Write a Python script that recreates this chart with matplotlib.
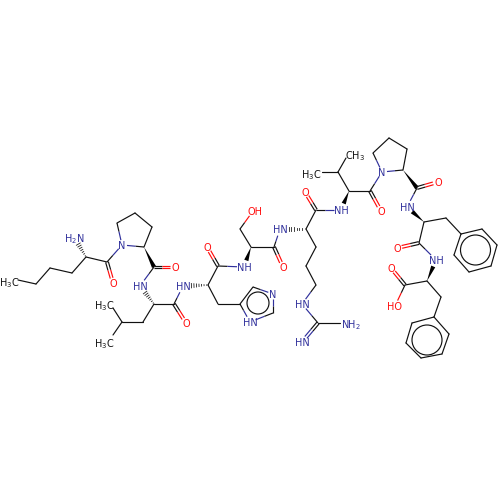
import numpy as np
import matplotlib
matplotlib.use("Agg")
import matplotlib.pyplot as plt
from matplotlib.patches import Polygon, Circle

BLUE = "#30309c"
RED = "#ff0d0d"
INK = "#111111"

# atom name -> position
atoms = {
 "me1": (18, 280), "c1": (36, 284), "c2": (50, 268), "c3": (72, 273), "a1": (86, 257),
 "n1": (74, 237), "co1": (107, 262), "o1": (113, 283), "p1n": (122, 245), "p1d": (117, 223),
 "p1g": (135, 213), "p1b": (152, 227), "p1a": (144, 247), "co2": (154, 267), "o2": (175, 267),
 "n2": (140, 286), "a3": (154, 304), "b3": (143, 322), "g3": (122, 322), "m3a": (113, 308),
 "m3b": (113, 335), "co3": (174, 304), "o3": (186, 323), "n3": (183, 286), "a4": (208, 285),
 "co4": (218, 266), "o4": (207, 247), "n4": (244, 267), "b4": (218, 304), "r1": (240, 304),
 "r2": (253, 287), "r3": (273, 294), "r4": (273, 313), "r5": (250, 322), "a5": (251, 247),
 "b5": (240, 229), "oh5": (253, 211), "co5": (274, 247), "o5": (283, 267), "n5": (280, 229),
 "a6": (306, 229), "co6": (316, 210), "o6": (305, 192), "b6": (316, 247), "g6": (306, 266),
 "d6": (316, 285), "n6": (302, 304), "gu": (318, 323), "nh": (302, 342), "nh2": (340, 323),
 "n7": (341, 210), "a7": (349, 191), "b7": (338, 172), "m7a": (346, 158), "m7b": (322, 172),
 "co7": (370, 191), "o7": (381, 211), "p2n": (382, 172), "p2d": (373, 153), "p2g": (389, 138),
 "p2b": (407, 149), "p2a": (403, 170), "co8": (417, 188), "o8": (438, 182), "n8": (407, 207),
 "a9": (424, 222), "b9": (446, 218), "f1": (461, 234), "f2": (482, 229), "f3": (497, 245),
 "f4": (491, 266), "f5": (469, 272), "f6": (454, 255), "co9": (419, 243), "o9": (397, 248),
 "n9": (436, 260), "a10": (427, 281), "co10": (405, 285), "o10": (391, 268), "oh10": (395, 306),
 "b10": (441, 297), "g1": (434, 317), "g2": (449, 334), "g3b": (442, 354), "g4": (421, 358),
 "g5": (406, 343), "g6b": (412, 323),
}

single_bonds = [
 ("me1","c1"),("c1","c2"),("c2","c3"),("c3","a1"),("a1","co1"),("co1","p1n"),("p1n","p1d"),
 ("p1d","p1g"),("p1g","p1b"),("p1b","p1a"),("p1a","p1n"),("co2","n2"),("a3","b3"),("b3","g3"),
 ("g3","m3a"),("g3","m3b"),("a3","co3"),("co3","n3"),
 ("a4","co4"),("co4","n4"),("a4","b4"),("b4","r1"),("r1","r2"),("r2","r3"),("r3","r4"),
 ("r4","r5"),("r5","r1"),("a5","b5"),("b5","oh5"),("a5","co5"),("co5","n5"),("a6","co6"),
 ("a6","b6"),("b6","g6"),("g6","d6"),("d6","n6"),("n6","gu"),("gu","nh2"),("co6","n7"),
 ("a7","b7"),("b7","m7a"),("b7","m7b"),("a7","co7"),("co7","p2n"),("p2n","p2d"),("p2d","p2g"),
 ("p2g","p2b"),("p2b","p2a"),("p2a","p2n"),("co8","n8"),("a9","b9"),("b9","f1"),("f1","f2"),
 ("f2","f3"),("f3","f4"),("f4","f5"),("f5","f6"),("f6","f1"),("a9","co9"),("co9","n9"),
 ("a10","co10"),("co10","oh10"),("a10","b10"),("b10","g1"),("g1","g2"),("g2","g3b"),
 ("g3b","g4"),("g4","g5"),("g5","g6b"),("g6b","g1"),
]
double_bonds = [("co1","o1"),("co2","o2"),("co3","o3"),("co4","o4"),("co5","o5"),("co6","o6"),
                ("co7","o7"),("co8","o8"),("co9","o9"),("co10","o10"),("gu","nh")]
wedge_bonds = [("p1a","co2"),("a5","n4"),("a7","n7"),("p2a","co8"),("a9","n8"),("a10","n9")]
hash_bonds = [("a1","n1"),("a3","n2"),("a4","n3"),("a6","n5")]

labels = {
 "me1": ("H$_3$C", INK, 0), "n1": ("H$_2$N", BLUE, 7), "o1": ("O", RED, 5), "p1n": ("N", BLUE, 5),
 "o2": ("O", RED, 5), "n2": ("HN", BLUE, 7), "m3a": ("H$_3$C", INK, 0), "m3b": ("H$_3$C", INK, 0),
 "o3": ("O", RED, 5), "n3": ("HN", BLUE, 7), "o4": ("O", RED, 5), "n4": ("NH", BLUE, 7),
 "r3": ("N", BLUE, 5), "r5": ("HN", BLUE, 6), "oh5": ("OH", RED, 6), "o5": ("O", RED, 5),
 "n5": ("HN", BLUE, 7), "o6": ("O", RED, 5), "n6": ("HN", BLUE, 6), "nh": ("HN", BLUE, 6),
 "nh2": ("NH$_2$", BLUE, 0), "n7": ("NH", BLUE, 7), "m7a": ("CH$_3$", INK, 0), "m7b": ("H$_3$C", INK, 0),
 "o7": ("O", RED, 5), "p2n": ("N", BLUE, 5), "o8": ("O", RED, 5), "n8": ("HN", BLUE, 7),
 "o9": ("O", RED, 5), "n9": ("NH", BLUE, 7), "o10": ("O", RED, 5), "oh10": ("HO", RED, 6),
}
# label text centres, where they differ from the atom's own position
label_pos = {
 "me1": (9, 281), "n1": (74, 237), "m3a": (104, 304), "m3b": (104, 342), "oh5": (255, 211),
 "n2": (140, 286), "r5": (250, 322), "n6": (302, 304), "nh": (302, 342), "nh2": (351, 323),
 "m7a": (355, 154), "m7b": (311, 173), "n5": (280, 229),
}
circles = [("imidazole", 258, 303, 11), ("phe1", 475.5, 250, 15), ("phe2", 427, 340, 15)]


def color_of(a):
    return labels[a][1] if a in labels and labels[a][2] else INK


def seg(a, b):
    p, q = np.array(atoms[a], float), np.array(atoms[b], float)
    d = q - p
    u = d / np.hypot(*d)
    gp = labels[a][2] if a in labels else 0
    gq = labels[b][2] if b in labels else 0
    return p + u * gp, q - u * gq, u


def line(ax, p, q, ca, cb, lw=0.85):
    m = (p + q) / 2
    if ca == cb:
        ax.plot([p[0], q[0]], [p[1], q[1]], color=ca, lw=lw, solid_capstyle="round")
    else:
        ax.plot([p[0], m[0]], [p[1], m[1]], color=ca, lw=lw, solid_capstyle="butt")
        ax.plot([m[0], q[0]], [m[1], q[1]], color=cb, lw=lw, solid_capstyle="butt")


fig = plt.figure(figsize=(5, 5), dpi=100)
ax = fig.add_axes([0, 0, 1, 1])
ax.set_xlim(0, 500)
ax.set_ylim(500, 0)
ax.axis("off")

for a, b in single_bonds:
    p, q, _ = seg(a, b)
    line(ax, p, q, color_of(a), color_of(b))

for a, b in double_bonds:
    p, q, u = seg(a, b)
    n = np.array([-u[1], u[0]]) * 1.4
    line(ax, p + n, q + n, color_of(a), color_of(b))
    line(ax, p - n, q - n, color_of(a), color_of(b))

for a, b in wedge_bonds:
    p, q, u = seg(a, b)
    n = np.array([-u[1], u[0]]) * 2.2
    ax.add_patch(Polygon([p, q + n, q - n], closed=True, fc="black", ec="none"))

for a, b in hash_bonds:
    p, q, u = seg(a, b)
    n = np.array([-u[1], u[0]])
    L = np.hypot(*(q - p))
    for t in np.arange(0.08, 1.0, 0.14):
        c = p + u * L * t
        w = 2.4 * t
        ax.plot(*zip(c + n * w, c - n * w), color="#222222", lw=0.6)

for _, cx, cy, r in circles:
    ax.add_patch(Circle((cx, cy), r, fc="none", ec=INK, lw=0.85))

for a, (txt, col, _) in labels.items():
    x, y = label_pos.get(a, atoms[a])
    ax.text(x, y, txt, color=col, fontsize=7, ha="center", va="center_baseline",
            family="DejaVu Sans", math_fontfamily="dejavusans")

fig.savefig("out.png", dpi=100, facecolor="white")
